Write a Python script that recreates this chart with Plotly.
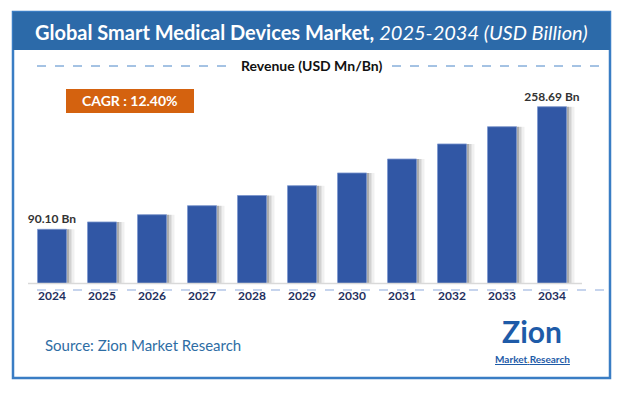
import plotly.graph_objects as go

years = ["2024", "2025", "2026", "2027", "2028", "2029", "2030", "2031", "2032", "2033", "2034"]
revenue = [90.10, 100.2, 110.2, 122.6, 136.6, 150.1, 167.6, 186.8, 207.5, 231.2, 258.69]
bar_labels = ["<b>90.10 Bn</b>", "", "", "", "", "", "", "", "", "", "<b>258.69 Bn</b>"]
tick_labels = ["<b>%s</b>" % y for y in years]

W, H = 622, 396
FONT = "Lato, 'Open Sans', sans-serif"

def px(x):
    return x / W

def py(y):
    return 1 - y / H

fig = go.Figure()

# shadows
for off, col in [(0.16, "rgba(0,0,0,0.06)"), (0.10, "rgba(0,0,0,0.12)"), (0.05, "rgba(0,0,0,0.18)")]:
    fig.add_trace(go.Bar(
        x=years, y=revenue, width=0.58, offset=-0.29 + off,
        marker=dict(color=col, line=dict(width=0)),
        hoverinfo="skip", showlegend=False,
    ))

fig.add_trace(go.Bar(
    x=years, y=revenue, width=0.58, offset=-0.29,
    marker=dict(color="#3157a5", line=dict(color="#7d98d0", width=0.8)),
    text=bar_labels, textposition="outside", cliponaxis=False, constraintext="none",
    textfont=dict(family=FONT, size=12, color="#333333"),
    showlegend=False,
))

shapes = []
# outer frame
shapes.append(dict(type="rect", xref="paper", yref="paper",
                   x0=px(13), x1=px(610), y0=py(378), y1=py(12),
                   line=dict(color="#3a7dc4", width=2.5), fillcolor="rgba(0,0,0,0)", layer="below"))
# banner
shapes.append(dict(type="rect", xref="paper", yref="paper",
                   x0=px(13), x1=px(610), y0=py(50), y1=py(12),
                   line=dict(width=0), fillcolor="#2c6aa9", layer="below"))
# revenue dashed lines
for a, b in [(37, 230), (392, 604)]:
    shapes.append(dict(type="line", xref="paper", yref="paper",
                       x0=px(a), x1=px(b), y0=py(66), y1=py(66),
                       line=dict(color="#4a86c8", width=1, dash="dash")))
# CAGR box
shapes.append(dict(type="rect", xref="paper", yref="paper",
                   x0=px(66), x1=px(194), y0=py(113), y1=py(89),
                   line=dict(width=0), fillcolor="#d4620f"))
# axis gray line
shapes.append(dict(type="line", xref="paper", yref="paper",
                   x0=px(28), x1=px(582), y0=py(283.5), y1=py(283.5),
                   line=dict(color="#d9d9d9", width=1.5)))
# dashed line below
shapes.append(dict(type="line", xref="paper", yref="paper",
                   x0=px(37), x1=px(604), y0=py(290), y1=py(290),
                   line=dict(color="#8eaadb", width=1.2, dash="dash")))

annotations = [
    dict(text="<b>Global Smart Medical Devices Market,</b> <i>2025-2034 (USD Billion)</i>",
         x=px(311), y=py(32), xref="paper", yref="paper", showarrow=False,
         font=dict(family=FONT, size=20, color="white"), xanchor="center", yanchor="middle"),
    dict(text="<b>Revenue (USD Mn/Bn)</b>", x=px(311), y=py(66), xref="paper", yref="paper",
         showarrow=False, font=dict(family=FONT, size=14, color="#111111"),
         xanchor="center", yanchor="middle"),
    dict(text="<b>CAGR : 12.40%</b>", x=px(130), y=py(101), xref="paper", yref="paper",
         showarrow=False, font=dict(family=FONT, size=14, color="white"),
         xanchor="center", yanchor="middle"),
    dict(text="Source: Zion Market Research", x=px(43), y=py(345), xref="paper", yref="paper",
         showarrow=False, font=dict(family=FONT, size=15, color="#2e6da4"),
         xanchor="left", yanchor="middle"),
    dict(text="<b>Zion</b>", x=px(532), y=py(331), xref="paper", yref="paper",
         showarrow=False, font=dict(family=FONT, size=30, color="#1e5ba8"),
         xanchor="center", yanchor="middle"),
    dict(text="<b><u>Market<span style='color:#e8831f'>.</span>Research</u></b>", x=px(532), y=py(359),
         xref="paper", yref="paper", showarrow=False,
         font=dict(family=FONT, size=10, color="#1e5ba8"), xanchor="center", yanchor="middle"),
]

fig.update_layout(
    width=W, height=H,
    margin=dict(l=0, r=0, t=0, b=0),
    paper_bgcolor="white", plot_bgcolor="white",
    barmode="overlay",
    shapes=shapes, annotations=annotations,
    font=dict(family=FONT),
    xaxis=dict(domain=[px(27), px(577)], range=[-0.5, 10.5], type="category",
               tickvals=years, ticktext=tick_labels, showgrid=False, showline=False,
               zeroline=False, ticks="", ticklabelstandoff=4,
               tickfont=dict(family=FONT, size=12, color="#1f2f5e")),
    yaxis=dict(domain=[1 - 283 / H, 1 - 90 / H], range=[16.25, 281.7], visible=False),
)

fig.write_html("out.html", config={"displayModeBar": False},
               post_script="document.body.style.margin='0px';")
